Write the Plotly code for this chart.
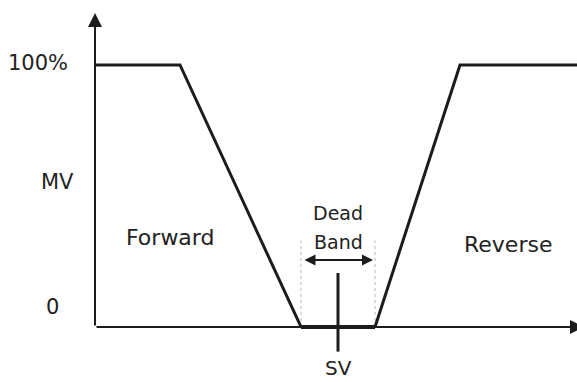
import plotly.graph_objects as go

# process variable measured from SV (arbitrary units), MV in percent
pv_origin = -24.3
pv_forward = [-24.3, -15.8, -3.7]
mv_forward = [100, 100, 0]
pv_band = [-3.7, 3.7]
mv_band = [0, 0]
pv_reverse = [3.7, 12.2, 25.0]
mv_reverse = [0, 100, 100]
sv = 0.0
band_half = 3.7

tick_labels = ["100%", "MV", "0"]
tick_pv = [-30.0, -28.1, -28.6]
tick_mv = [100.8, 55.3, 7.6]

ink = "#1c1c1c"
font = dict(family="DejaVu Sans", size=21, color="#222222")

fig = go.Figure()

# dotted dead band limits
for xb in [-band_half, band_half]:
    fig.add_trace(go.Scatter(x=[xb, xb], y=[0, 33], mode="lines",
                             line=dict(color="#b8b8b8", width=1, dash="dot"),
                             hoverinfo="skip"))

fig.add_trace(go.Scatter(x=pv_forward, y=mv_forward, mode="lines",
                         line=dict(color=ink, width=3), name="Forward"))
fig.add_trace(go.Scatter(x=pv_reverse, y=mv_reverse, mode="lines",
                         line=dict(color=ink, width=3), name="Reverse"))
fig.add_trace(go.Scatter(x=pv_band, y=mv_band, mode="lines",
                         line=dict(color=ink, width=4), name="Dead Band"))
# SV marker
fig.add_trace(go.Scatter(x=[sv, sv], y=[20.6, -9.4], mode="lines",
                         line=dict(color=ink, width=3), hoverinfo="skip"))

arrows = [
    # y axis
    dict(x=pv_origin, y=119.8, ax=pv_origin, ay=0, arrowside="end", arrowsize=1.4),
    # x axis
    dict(x=24.6, y=0, ax=pv_origin, ay=0, arrowside="end", arrowsize=1.4),
    # dead band width
    dict(x=band_half - 0.2, y=25.6, ax=-band_half + 0.2, ay=25.6,
         arrowside="end+start", arrowsize=1.1),
]
for a in arrows:
    fig.add_annotation(text="", showarrow=True, xref="x", yref="y",
                       axref="x", ayref="y", arrowhead=2, arrowwidth=2,
                       arrowcolor=ink, standoff=0, startstandoff=0, **a)

for lbl, xv, yv in zip(tick_labels, tick_pv, tick_mv):
    fig.add_annotation(text=lbl, x=xv, y=yv, showarrow=False, font=font)

labels = [("Forward", -16.8, 34.0, 22), ("Reverse", 17.0, 31.3, 22),
          ("Dead", sv, 43.5, 19), ("Band", sv, 32.4, 19), ("SV", sv, -15.6, 20)]
for txt, xv, yv, sz in labels:
    fig.add_annotation(text=txt, x=xv, y=yv, showarrow=False,
                       font=dict(family="DejaVu Sans", size=sz, color="#222222"))

fig.update_layout(
    width=577, height=382,
    margin=dict(l=0, r=0, t=0, b=0),
    paper_bgcolor="white", plot_bgcolor="white",
    showlegend=False,
    xaxis=dict(range=[-33.8, 23.9], visible=False, fixedrange=True),
    yaxis=dict(range=[-21.0, 124.8], visible=False, fixedrange=True),
)

# drop the page's default body margin so the figure sits at the window corner
fig.write_html("out.html", config={"displayModeBar": False},
               post_script="document.body.style.margin='0';")
